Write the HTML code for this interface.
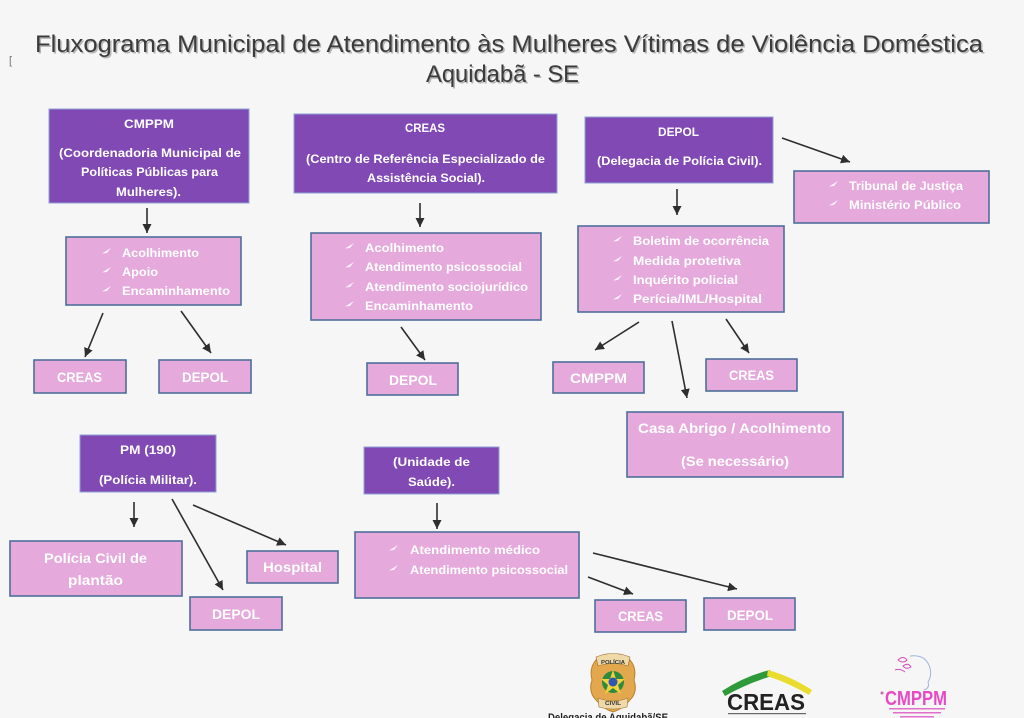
<!DOCTYPE html>
<html>
<head>
<meta charset="utf-8">
<style>
html,body{margin:0;padding:0;background:#f6f6f6;}
svg{display:block;}
.t{font-family:"Liberation Sans","DejaVu Sans",sans-serif;font-weight:bold;fill:#fff;}
.p{fill:#8049b4;stroke:#8fa3d6;stroke-width:1;}
.k{fill:#e5a9dc;stroke:#4f6f9c;stroke-width:1.6;}
.a{stroke:#2e2e2e;stroke-width:1.6;fill:none;marker-end:url(#ah);}
.b{fill:#fff;opacity:.85;}
</style>
</head>
<body>
<svg width="1024" height="718" viewBox="0 0 1024 718" xmlns="http://www.w3.org/2000/svg">
<defs>
<marker id="ah" markerUnits="userSpaceOnUse" markerWidth="10" markerHeight="9" refX="9" refY="4.5" orient="auto">
<path d="M0,0 L9,4.5 L0,9 Z" fill="#2e2e2e"/>
</marker>
<symbol id="bl" viewBox="0 0 9 6" overflow="visible">
<path d="M0,5.5 L9,0 L5,5 Z" fill="#fff" opacity=".85"/>
</symbol>
</defs>
<rect width="1024" height="718" fill="#f6f6f6"/>

<!-- Title -->
<g font-family="Liberation Sans, DejaVu Sans, sans-serif" font-size="24">
<text x="36.5" y="53.5" textLength="948" lengthAdjust="spacingAndGlyphs" fill="#b5b5b5">Fluxograma Municipal de Atendimento às Mulheres Vítimas de Violência Doméstica</text>
<text x="35" y="52" textLength="948" lengthAdjust="spacingAndGlyphs" fill="#3b3b3b">Fluxograma Municipal de Atendimento às Mulheres Vítimas de Violência Doméstica</text>
<text x="427.5" y="83.5" textLength="153" lengthAdjust="spacingAndGlyphs" fill="#b5b5b5">Aquidabã - SE</text>
<text x="426" y="82" textLength="153" lengthAdjust="spacingAndGlyphs" fill="#3b3b3b">Aquidabã - SE</text>
</g>
<text x="9" y="64" font-family="Liberation Sans, sans-serif" font-size="11" fill="#777">[</text>

<!-- ===== CMPPM column ===== -->
<rect class="p" x="49" y="109" width="200" height="94"/>
<g class="t" font-size="12">
<text x="124" y="128" textLength="50" lengthAdjust="spacingAndGlyphs">CMPPM</text>
<text x="59" y="157" textLength="182" lengthAdjust="spacingAndGlyphs">(Coordenadoria Municipal de</text>
<text x="81" y="176" textLength="137" lengthAdjust="spacingAndGlyphs">Políticas Públicas para</text>
<text x="116" y="196" textLength="65" lengthAdjust="spacingAndGlyphs">Mulheres).</text>
</g>
<line class="a" x1="147" y1="208" x2="147" y2="233"/>
<rect class="k" x="66" y="237" width="175" height="68"/>
<use href="#bl" x="102" y="248" width="9" height="6"/>
<use href="#bl" x="102" y="267" width="9" height="6"/>
<use href="#bl" x="102" y="286" width="9" height="6"/>
<g class="t" font-size="12">
<text x="122" y="257" textLength="77" lengthAdjust="spacingAndGlyphs">Acolhimento</text>
<text x="122" y="276" textLength="36" lengthAdjust="spacingAndGlyphs">Apoio</text>
<text x="122" y="295" textLength="108" lengthAdjust="spacingAndGlyphs">Encaminhamento</text>
</g>
<line class="a" x1="103" y1="313" x2="85" y2="357"/>
<line class="a" x1="181" y1="311" x2="211" y2="353"/>
<rect class="k" x="34" y="360" width="92" height="33"/>
<rect class="k" x="159" y="360" width="92" height="33"/>
<g class="t" font-size="13.5">
<text x="57" y="382" textLength="45" lengthAdjust="spacingAndGlyphs">CREAS</text>
<text x="182" y="382" textLength="46" lengthAdjust="spacingAndGlyphs">DEPOL</text>
</g>

<!-- ===== CREAS column ===== -->
<rect class="p" x="294" y="114" width="263" height="79"/>
<g class="t" font-size="12">
<text x="405" y="132" textLength="40" lengthAdjust="spacingAndGlyphs">CREAS</text>
<text x="306" y="163" textLength="239" lengthAdjust="spacingAndGlyphs">(Centro de Referência Especializado de</text>
<text x="367" y="182" textLength="118" lengthAdjust="spacingAndGlyphs">Assistência Social).</text>
</g>
<line class="a" x1="420" y1="203" x2="420" y2="227"/>
<rect class="k" x="311" y="233" width="230" height="87"/>
<use href="#bl" x="345" y="243" width="9" height="6"/>
<use href="#bl" x="345" y="262" width="9" height="6"/>
<use href="#bl" x="345" y="282" width="9" height="6"/>
<use href="#bl" x="345" y="301" width="9" height="6"/>
<g class="t" font-size="12">
<text x="365" y="252" textLength="79" lengthAdjust="spacingAndGlyphs">Acolhimento</text>
<text x="365" y="271" textLength="157" lengthAdjust="spacingAndGlyphs">Atendimento psicossocial</text>
<text x="365" y="291" textLength="163" lengthAdjust="spacingAndGlyphs">Atendimento sociojurídico</text>
<text x="365" y="310" textLength="108" lengthAdjust="spacingAndGlyphs">Encaminhamento</text>
</g>
<line class="a" x1="401" y1="327" x2="425" y2="360"/>
<rect class="k" x="367" y="363" width="91" height="32"/>
<text class="t" font-size="13.5" x="389" y="385" textLength="48" lengthAdjust="spacingAndGlyphs">DEPOL</text>

<!-- ===== DEPOL column ===== -->
<rect class="p" x="585" y="117" width="188" height="66"/>
<g class="t" font-size="12">
<text x="658" y="136" textLength="41" lengthAdjust="spacingAndGlyphs">DEPOL</text>
<text x="597" y="165" textLength="165" lengthAdjust="spacingAndGlyphs">(Delegacia de Polícia Civil).</text>
</g>
<line class="a" x1="782" y1="138" x2="850" y2="162"/>
<rect class="k" x="794" y="171" width="195" height="52"/>
<use href="#bl" x="829" y="181" width="9" height="6"/>
<use href="#bl" x="829" y="200" width="9" height="6"/>
<g class="t" font-size="12">
<text x="849" y="190" textLength="114" lengthAdjust="spacingAndGlyphs">Tribunal de Justiça</text>
<text x="849" y="209" textLength="112" lengthAdjust="spacingAndGlyphs">Ministério Público</text>
</g>
<line class="a" x1="677" y1="189" x2="677" y2="215"/>
<rect class="k" x="578" y="226" width="206" height="86"/>
<use href="#bl" x="613" y="236" width="9" height="6"/>
<use href="#bl" x="613" y="256" width="9" height="6"/>
<use href="#bl" x="613" y="275" width="9" height="6"/>
<use href="#bl" x="613" y="294" width="9" height="6"/>
<g class="t" font-size="12">
<text x="633" y="245" textLength="136" lengthAdjust="spacingAndGlyphs">Boletim de ocorrência</text>
<text x="633" y="265" textLength="108" lengthAdjust="spacingAndGlyphs">Medida protetiva</text>
<text x="633" y="284" textLength="105" lengthAdjust="spacingAndGlyphs">Inquérito policial</text>
<text x="633" y="303" textLength="129" lengthAdjust="spacingAndGlyphs">Perícia/IML/Hospital</text>
</g>
<line class="a" x1="639" y1="322" x2="595" y2="350"/>
<line class="a" x1="672" y1="321" x2="687" y2="398"/>
<line class="a" x1="726" y1="319" x2="749" y2="353"/>
<rect class="k" x="553" y="362" width="91" height="31"/>
<rect class="k" x="706" y="359" width="91" height="32"/>
<g class="t" font-size="13.5">
<text x="570" y="383" textLength="57" lengthAdjust="spacingAndGlyphs">CMPPM</text>
<text x="729" y="380" textLength="45" lengthAdjust="spacingAndGlyphs">CREAS</text>
</g>
<rect class="k" x="627" y="412" width="216" height="65"/>
<g class="t" font-size="14">
<text x="638" y="433" textLength="193" lengthAdjust="spacingAndGlyphs">Casa Abrigo / Acolhimento</text>
<text x="681" y="466" textLength="108" lengthAdjust="spacingAndGlyphs">(Se necessário)</text>
</g>

<!-- ===== PM ===== -->
<rect class="p" x="80" y="435" width="136" height="57"/>
<g class="t" font-size="12">
<text x="120" y="454" textLength="56" lengthAdjust="spacingAndGlyphs">PM (190)</text>
<text x="99" y="484" textLength="98" lengthAdjust="spacingAndGlyphs">(Polícia Militar).</text>
</g>
<line class="a" x1="134" y1="502" x2="134" y2="527"/>
<line class="a" x1="172" y1="499" x2="223" y2="590"/>
<line class="a" x1="193" y1="505" x2="286" y2="545"/>
<rect class="k" x="10" y="541" width="172" height="55"/>
<g class="t" font-size="14">
<text x="44" y="563" textLength="103" lengthAdjust="spacingAndGlyphs">Polícia Civil de</text>
<text x="68" y="585" textLength="55" lengthAdjust="spacingAndGlyphs">plantão</text>
</g>
<rect class="k" x="247" y="551" width="91" height="32"/>
<rect class="k" x="190" y="597" width="92" height="33"/>
<g class="t" font-size="13.5">
<text x="263" y="572" textLength="59" lengthAdjust="spacingAndGlyphs">Hospital</text>
<text x="212" y="619" textLength="48" lengthAdjust="spacingAndGlyphs">DEPOL</text>
</g>

<!-- ===== Unidade de Saude ===== -->
<rect class="p" x="364" y="447" width="135" height="47"/>
<g class="t" font-size="12">
<text x="393" y="466" textLength="77" lengthAdjust="spacingAndGlyphs">(Unidade de</text>
<text x="408" y="486" textLength="47" lengthAdjust="spacingAndGlyphs">Saúde).</text>
</g>
<line class="a" x1="437" y1="503" x2="437" y2="529"/>
<rect class="k" x="355" y="532" width="224" height="66"/>
<use href="#bl" x="389" y="545" width="9" height="6"/>
<use href="#bl" x="389" y="565" width="9" height="6"/>
<g class="t" font-size="12">
<text x="410" y="554" textLength="130" lengthAdjust="spacingAndGlyphs">Atendimento médico</text>
<text x="410" y="574" textLength="158" lengthAdjust="spacingAndGlyphs">Atendimento psicossocial</text>
</g>
<line class="a" x1="588" y1="577" x2="633" y2="594"/>
<line class="a" x1="593" y1="553" x2="737" y2="589"/>
<rect class="k" x="595" y="600" width="91" height="32"/>
<rect class="k" x="704" y="598" width="91" height="32"/>
<g class="t" font-size="13.5">
<text x="618" y="621" textLength="45" lengthAdjust="spacingAndGlyphs">CREAS</text>
<text x="727" y="620" textLength="46" lengthAdjust="spacingAndGlyphs">DEPOL</text>
</g>

<!-- ===== Logos ===== -->
<!-- Police badge -->
<path d="M596,660 Q603,652 613,655 Q623,652 630,660 Q637,668 634,680 Q638,692 630,700 Q623,709 613,712 Q603,709 596,700 Q588,692 592,680 Q589,668 596,660 Z" fill="#e3a84e" stroke="#b9822f" stroke-width="1"/>
<path d="M596,657 Q613,650 630,657 L628,666 Q613,661 598,666 Z" fill="#f0d9a8" stroke="#9a7030" stroke-width=".6"/>
<text x="601" y="664" font-family="Liberation Sans, sans-serif" font-weight="bold" font-size="5.5" fill="#333" textLength="24" lengthAdjust="spacingAndGlyphs">POLÍCIA</text>
<path d="M598,698 Q613,704 628,698 L627,707 Q613,711 599,707 Z" fill="#f0d9a8" stroke="#9a7030" stroke-width=".6"/>
<text x="605" y="705" font-family="Liberation Sans, sans-serif" font-weight="bold" font-size="5.5" fill="#333" textLength="16" lengthAdjust="spacingAndGlyphs">CIVIL</text>
<circle cx="613" cy="682" r="11" fill="#2f8a3e"/>
<path d="M613,670 L616,679 L625,679 L618,685 L621,694 L613,688 L605,694 L608,685 L601,679 L610,679 Z" fill="#f2d23a"/>
<circle cx="613" cy="682" r="4.5" fill="#2f56b3"/>
<text x="548" y="721" font-family="Liberation Sans, sans-serif" font-weight="bold" font-size="11" fill="#222" textLength="120" lengthAdjust="spacingAndGlyphs">Delegacia de Aquidabã/SE</text>

<!-- CREAS logo -->
<path d="M722,691 Q745,676 770,670 L772,676 Q748,683 725,696 Z" fill="#2f9a3a"/>
<path d="M768,670 Q790,676 812,690 L809,695 Q789,683 767,676 Z" fill="#e9dc2c"/>
<text x="727" y="710" font-family="Liberation Sans, sans-serif" font-weight="bold" font-size="23" fill="#222" textLength="78" lengthAdjust="spacingAndGlyphs">CREAS</text>
<rect x="728" y="713" width="78" height="1.2" fill="#666"/>

<!-- CMPPM logo -->
<path d="M910,656 Q926,654 930,668 Q932,676 928,682 Q930,688 924,690" fill="none" stroke="#9fb6e0" stroke-width="1"/>
<path d="M898,660 Q903,655 907,660 Q903,664 898,660 Z M903,666 Q908,662 911,667 Q906,670 903,666 Z" fill="none" stroke="#d64ab8" stroke-width="1"/>
<path d="M895,670 Q900,668 905,672" fill="none" stroke="#d64ab8" stroke-width="1"/>
<text x="885" y="705" font-family="Liberation Sans, sans-serif" font-weight="bold" font-size="20" fill="#e64ac4" textLength="62" lengthAdjust="spacingAndGlyphs">CMPPM</text>
<circle cx="882" cy="693" r="1.5" fill="#c66aa8"/>
<rect x="889" y="708" width="56" height="1.5" fill="#e070c8"/>
<rect x="893" y="712" width="48" height="1.5" fill="#e070c8"/>
<rect x="900" y="716" width="34" height="1.5" fill="#e070c8"/>
</svg>
</body>
</html>
